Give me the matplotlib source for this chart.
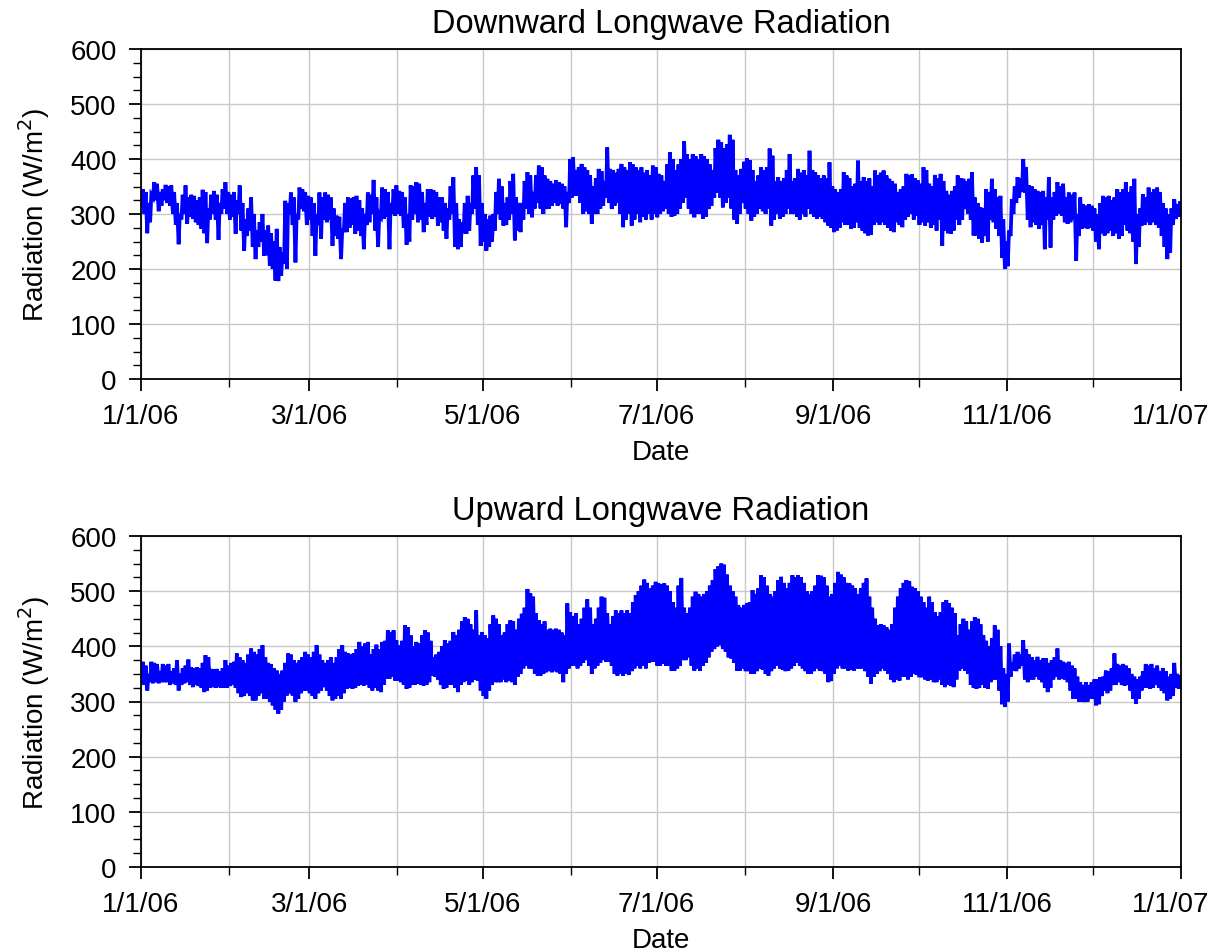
import numpy as np
import matplotlib
matplotlib.use("Agg")
import matplotlib.pyplot as plt
import matplotlib.transforms as mtransforms
from matplotlib.ticker import MultipleLocator
from datetime import datetime, timedelta

# ---- Data: daily high / low values (W/m^2), one entry per day of 2006 ----
down_hi = [
 345,340,320,335,358,355,340,345,353,350,
 352,340,320,300,335,352,330,335,333,325,
 330,344,340,310,335,342,335,320,345,358,
 340,335,340,325,352,320,290,310,330,300,
 270,285,300,270,279,265,250,273,240,230,
 324,320,339,330,300,348,345,340,333,330,
 320,300,339,330,339,335,330,310,297,295,
 270,320,330,328,330,333,325,310,300,339,
 335,362,330,300,348,345,340,320,345,352,
 342,340,330,300,352,350,358,355,340,320,
 345,345,343,340,330,330,320,310,350,367,
 320,290,285,320,333,320,370,385,370,320,
 300,290,297,300,340,364,350,320,330,360,
 373,330,320,320,360,376,370,340,370,388,
 385,370,364,360,355,361,358,355,350,340,
 400,403,380,385,391,385,380,370,350,365,
 382,378,360,421,382,380,375,382,391,385,
 380,394,390,385,380,385,375,380,370,388,
 385,373,370,360,390,412,400,380,390,400,
 432,409,400,409,405,400,409,405,400,390,
 380,420,435,430,420,427,444,435,380,370,
 382,395,401,398,380,360,370,385,380,385,
 419,406,360,367,360,365,380,409,360,365,
 382,375,380,370,415,380,376,370,365,370,
 365,394,350,345,340,345,376,370,365,350,
 355,397,360,367,360,365,350,379,370,375,
 379,370,364,360,355,340,345,350,373,370,
 372,365,361,355,385,380,355,350,371,365,
 373,360,342,335,342,350,370,365,364,360,
 364,376,330,320,312,310,345,340,364,345,
 330,333,290,250,270,327,350,367,365,400,
 385,352,350,345,342,340,342,330,367,330,
 340,358,350,355,330,339,335,339,300,330,
 318,315,318,315,310,300,320,333,330,333,
 325,330,345,340,345,358,340,350,364,300,
 310,336,330,348,340,345,348,340,320,310,
 300,310,327,318,320,
]
down_lo = [
 315,300,265,285,330,325,305,315,325,320,
 315,300,280,245,290,300,282,295,291,285,
 280,273,265,247,290,300,290,253,300,310,
 300,290,295,264,300,270,233,260,270,240,
 218,240,250,224,225,206,200,179,178,188,
 210,200,300,280,212,290,309,305,280,290,
 260,224,280,255,290,285,290,242,260,255,
 218,270,267,275,280,264,270,260,236,280,
 285,300,270,240,295,291,295,236,300,297,
 300,297,275,244,250,290,300,285,290,267,
 280,295,291,295,279,285,270,255,290,300,
 240,236,240,265,264,270,300,310,280,242,
 250,233,240,250,270,300,290,279,280,290,
 300,252,270,267,290,310,300,294,310,320,
 310,300,309,310,315,320,315,318,310,276,
 320,330,333,333,320,300,305,300,282,300,
 300,310,315,330,320,309,315,320,300,276,
 290,300,279,290,300,285,295,290,300,290,
 300,294,300,305,310,300,295,297,300,310,
 320,330,310,300,294,300,300,291,295,309,
 315,330,339,330,312,320,330,310,290,282,
 300,320,310,300,288,295,300,310,305,300,
 310,279,290,300,291,295,300,310,300,300,
 295,290,300,295,310,300,295,291,295,291,
 285,279,275,267,270,275,285,280,280,273,
 275,285,275,270,265,261,262,280,285,280,
 285,280,275,270,267,285,280,276,290,295,
 300,290,297,280,285,279,285,275,280,270,
 290,242,270,265,264,270,290,280,290,309,
 300,290,261,261,255,248,260,250,290,285,
 273,260,220,200,205,260,300,320,330,340,
 339,290,276,285,280,273,280,236,290,239,
 290,297,300,297,285,282,285,290,215,260,
 273,275,273,275,270,250,236,265,261,265,
 270,260,265,255,260,280,270,265,250,209,
 240,279,280,285,280,285,280,275,260,240,
 218,230,280,291,295,
]
up_hi = [
 372,365,350,372,370,368,355,368,365,368,
 355,360,375,350,360,365,376,362,360,362,
 360,370,384,380,359,358,359,355,360,375,
 365,370,372,387,380,375,370,385,396,390,
 385,395,402,380,370,368,360,356,350,356,
 370,387,385,375,370,375,380,390,385,380,
 390,402,385,375,370,375,380,370,380,395,
 402,390,387,385,387,395,408,400,405,408,
 385,395,403,395,408,410,429,425,429,411,
 402,410,438,435,420,400,408,405,420,429,
 425,410,380,385,390,400,411,405,410,426,
 420,430,445,453,450,440,430,465,420,426,
 420,415,440,456,450,440,420,425,440,447,
 445,430,450,459,470,504,496,490,460,447,
 440,445,430,432,430,432,430,425,420,478,
 462,455,460,440,450,470,485,470,440,450,
 470,490,488,460,440,455,465,460,465,460,
 465,460,480,493,500,510,521,515,505,510,
 517,514,512,514,510,500,480,470,510,524,
 470,460,470,490,499,495,490,495,500,510,
 520,540,545,550,548,530,510,500,490,475,
 470,475,478,480,502,495,505,529,525,510,
 495,490,500,520,526,515,505,515,529,525,
 529,525,515,500,495,500,510,529,528,525,
 510,490,495,515,535,530,525,515,514,510,
 505,495,505,515,523,490,470,450,438,440,
 438,435,430,440,470,490,505,515,520,518,
 508,505,500,490,480,470,490,480,462,455,
 462,480,484,478,470,460,420,440,450,445,
 430,445,453,450,440,420,410,400,415,438,
 430,400,360,350,405,370,385,390,385,411,
 395,385,380,375,381,375,378,378,370,375,
 380,396,375,372,370,372,365,360,345,335,
 330,335,330,335,340,340,344,345,356,355,
 360,387,368,365,368,365,360,350,345,340,
 345,355,368,365,368,360,365,355,360,355,
 345,350,370,350,345,
]
up_lo = [
 335,330,320,335,333,335,333,335,335,335,
 330,333,330,320,330,333,335,330,326,330,
 328,325,317,320,325,326,325,326,325,325,
 325,328,330,325,315,308,310,315,310,302,
 302,310,315,305,305,300,293,285,278,285,
 300,311,315,311,299,305,315,320,320,315,
 310,305,315,320,326,320,310,302,305,310,
 305,315,323,325,323,325,329,330,329,330,
 325,320,325,320,317,330,341,341,345,338,
 338,335,330,323,325,330,330,332,330,329,
 330,335,347,345,340,330,323,325,330,330,
 325,317,330,335,338,330,335,340,338,320,
 310,305,320,330,335,335,335,340,335,338,
 335,330,345,350,360,365,360,359,350,347,
 347,350,353,355,353,355,353,350,335,350,
 360,365,365,360,365,370,375,365,350,360,
 365,370,375,372,372,365,350,347,350,347,
 350,348,355,360,365,360,365,360,370,372,
 372,365,365,368,365,365,356,356,360,365,
 375,375,380,365,356,360,356,365,370,380,
 390,395,400,402,395,390,380,378,370,356,
 356,360,355,355,350,350,355,360,358,350,
 347,355,360,365,360,358,355,356,360,365,
 370,365,360,355,350,350,355,360,356,355,
 350,335,337,350,360,365,360,360,356,358,
 356,360,360,360,355,345,332,345,350,355,
 360,356,350,340,335,340,338,345,345,340,
 345,350,348,344,344,340,338,340,335,335,
 340,330,326,330,328,326,340,356,360,356,
 350,330,325,323,325,330,325,323,335,340,
 340,320,295,290,300,345,356,355,360,365,
 340,335,340,340,345,340,335,325,317,325,
 340,345,340,341,340,335,320,305,305,300,
 300,299,300,305,305,293,295,310,320,315,
 320,330,330,335,330,329,330,320,305,296,
 305,320,325,325,323,325,330,325,320,315,
 302,305,310,325,323,
]

titles = ["Downward Longwave Radiation", "Upward Longwave Radiation"]
tick_labels = ["1/1/06", "3/1/06", "5/1/06", "7/1/06", "9/1/06", "11/1/06", "1/1/07"]

plt.rcParams['font.family'] = ['Liberation Sans', 'DejaVu Sans']

start = datetime(2006, 1, 1)

def build(hi, lo):
    t, v = [], []
    for i, (h, l) in enumerate(zip(hi, lo)):
        t.append(start + timedelta(days=i, hours=5))
        v.append(l)
        t.append(start + timedelta(days=i, hours=15))
        v.append(h)
    return t, v

fig = plt.figure(figsize=(12.17, 9.53), dpi=100)
axes_pos = [
    [141/1217, 1 - 380/953, 1040/1217, 330/953],
    [141/1217, 1 - 868/953, 1040/1217, 331/953],
]
series = [(down_hi, down_lo), (up_hi, up_lo)]

for pos, (hi, lo), title in zip(axes_pos, series, titles):
    ax = fig.add_axes(pos)
    t, v = build(hi, lo)
    ax.plot(t, v, color='#0000ff', lw=2.7, solid_joinstyle='miter')
    ax.set_xlim(datetime(2006, 1, 1), datetime(2007, 1, 1))
    ax.set_ylim(0, 600)
    major_dates = [datetime(2006, m, 1) for m in (1, 3, 5, 7, 9, 11)] + [datetime(2007, 1, 1)]
    minor_dates = [datetime(2006, m, 1) for m in (2, 4, 6, 8, 10, 12)]
    ax.set_xticks(major_dates)
    ax.set_xticklabels(tick_labels)
    ax.set_xticks(minor_dates, minor=True)
    ax.yaxis.set_major_locator(MultipleLocator(100))
    ax.yaxis.set_minor_locator(MultipleLocator(25))
    ax.tick_params(axis='both', which='major', direction='out', length=8.5, width=1.3,
                   labelsize=20, color='black')
    ax.tick_params(axis='x', which='major', pad=9)
    ax.tick_params(axis='y', which='major', pad=9)
    ax.tick_params(axis='both', which='minor', direction='out', length=5.5, width=1.0)
    ax.grid(True, which='major', color='#c8c8c8', lw=1.0)
    ax.grid(True, which='minor', axis='x', color='#c8c8c8', lw=1.0)
    ax.set_axisbelow(True)
    for s in ax.spines.values():
        s.set_linewidth(1.3)
    ax.set_title(title, fontsize=23.5, pad=12)
    ax.set_xlabel("Date", fontsize=20, labelpad=7)
    ax.set_ylabel("Radiation (W/m$^2$)", fontsize=20, labelpad=13)
    # last tick label sits shifted left so it stays inside the figure
    last = ax.get_xticklabels()[-1]
    last.set_transform(last.get_transform() +
                       mtransforms.ScaledTranslation(-10/100, 0, fig.dpi_scale_trans))

fig.savefig("out.png", dpi=100)
